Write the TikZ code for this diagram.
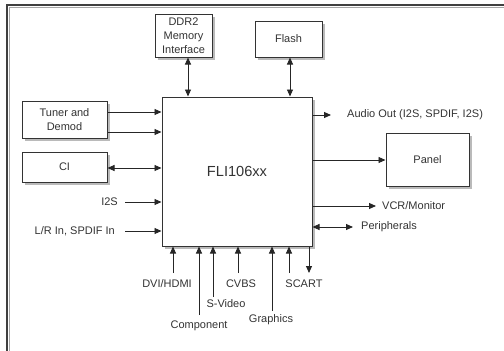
\documentclass[tikz,border=0pt]{standalone}
\usepackage{fontspec}
\setmainfont{Liberation Sans}
\usetikzlibrary{arrows.meta,shadows,calc}
\begin{document}
\begin{tikzpicture}[x=1pt,y=-1pt,
  font=\fontsize{11}{14}\selectfont, text=black!80,
  box/.style={draw=black!80, line width=1pt, fill=white, inner sep=0pt, align=center,
    drop shadow={shadow xshift=2.5pt,shadow yshift=-2.5pt,fill=black!45,opacity=0.6}},
  arr/.style={-{Triangle[length=7pt,width=6pt]}, line width=0.9pt, draw=black!85},
  darr/.style={{Triangle[length=7pt,width=6pt]}-{Triangle[length=7pt,width=6pt]}, line width=0.9pt, draw=black!85},
  lab/.style={inner sep=0pt}]
\useasboundingbox (0,0) rectangle (504,351);
% frame
\draw[black!35, line width=1pt] (9.5,351) -- (9.5,7.5) -- (504,7.5);
\draw[black!75, line width=1.6pt] (7,351) -- (7,5) -- (504,5);
% boxes
\node[box, minimum width=150pt, minimum height=149pt, font=\fontsize{14.6}{16}\selectfont] (m) at (237,171.5) {FLI106xx};
\node[box, minimum width=57pt, minimum height=43pt] (ddr) at (183.5,35.5) {DDR2\\Memory\\Interface};
\node[box, minimum width=67pt, minimum height=36pt] (flash) at (288.5,39) {Flash};
\node[box, minimum width=85pt, minimum height=37pt] (tuner) at (64.5,119.5) {Tuner and\\Demod};
\node[box, minimum width=85pt, minimum height=30pt] (ci) at (64.5,167) {CI};
\node[box, minimum width=83pt, minimum height=53pt] (panel) at (427.5,159.5) {Panel};
% top connectors
\draw[darr] ([xshift=4.5pt]ddr.south) -- ([xshift=4.5pt]ddr.south |- m.north);
\draw[darr] ([xshift=1.5pt]flash.south) -- ([xshift=1.5pt]flash.south |- m.north);
% left connectors
\draw[arr] (tuner.east |- 0,112) -- (m.west |- 0,112);
\draw[arr] (tuner.east |- 0,132) -- (m.west |- 0,132);
\draw[darr] (ci.east |- 0,168) -- (m.west |- 0,168);
\node[lab, anchor=east] (i2s) at (118,202) {I2S};
\draw[arr] ([xshift=7pt]i2s.east) -- (i2s.east -| m.west);
\node[lab, anchor=east] (lr) at (115,231) {L/R In, SPDIF In};
\draw[arr] ([xshift=10pt]lr.east) -- (lr.east -| m.west);
% right connectors
\node[lab, anchor=west] (audio) at (347,115) {Audio Out (I2S, SPDIF, I2S)};
\draw[arr] (audio.west -| m.east) -- ([xshift=-16pt]audio.west);
\draw[arr] (m.east |- 0,160) -- (panel.west |- 0,160);
\node[lab, anchor=west] (vcr) at (382,206) {VCR/Monitor};
\draw[arr] (vcr.west -| m.east) -- ([xshift=-6pt]vcr.west);
\node[lab, anchor=west] (per) at (361,227) {Peripherals};
\draw[darr] (per.west -| m.east) -- ([xshift=-8pt]per.west);
% bottom labels
\node[lab] (dvi) at (167,284) {DVI/HDMI};
\node[lab] (comp) at (199,326) {Component};
\node[lab] (svid) at (226,304) {S-Video};
\node[lab] (cvbs) at (241,284) {CVBS};
\node[lab] (gfx) at (271,320) {Graphics};
\node[lab] (scart) at (304,284) {SCART};
\coordinate (dviT) at (173,273);
\coordinate (compT) at (199,315);
\coordinate (svidT) at (213,297);
\coordinate (cvbsT) at (238,273);
\coordinate (gfxT) at (272,311);
\coordinate (scartT) at (289,273);
\coordinate (outT) at (309,273);
\draw[arr] (dviT) -- (dviT |- m.south);
\draw[arr] (compT) -- (compT |- m.south);
\draw[arr] (svidT) -- (svidT |- m.south);
\draw[arr] (cvbsT) -- (cvbsT |- m.south);
\draw[arr] (gfxT) -- (gfxT |- m.south);
\draw[arr] (scartT) -- (scartT |- m.south);
\draw[arr] (outT |- m.south) -- (outT);
\end{tikzpicture}
\end{document}
